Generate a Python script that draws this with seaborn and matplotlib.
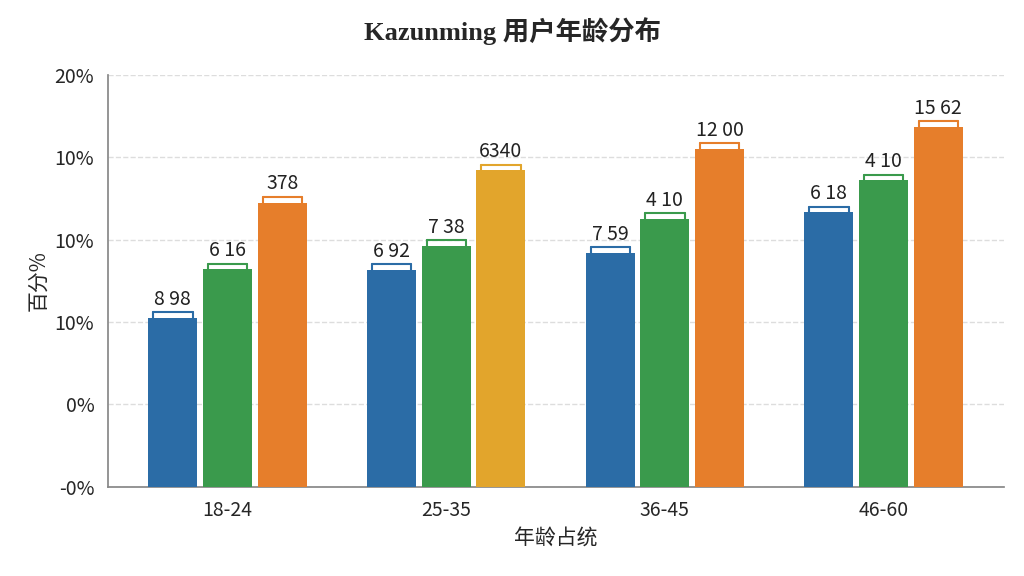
import matplotlib
matplotlib.use("Agg")
import matplotlib.pyplot as plt
import seaborn as sns
import pandas as pd

groups = ["18-24", "25-35", "36-45", "46-60"]
series = ["A", "B", "C"]
values = {
    "A": [2.05, 2.63, 2.84, 3.33],
    "B": [2.64, 2.92, 3.25, 3.72],
    "C": [3.45, 3.84, 4.10, 4.37],
}
labels = {
    "A": ["8 98", "6 92", "7 59", "6 18"],
    "B": ["6 16", "7 38", "4 10", "4 10"],
    "C": ["378", "6340", "12 00", "15 62"],
}
ytick_labels = ["-0%", "0%", "10%", "10%", "10%", "20%"]
colors = {"A": "#2b6ca6", "B": "#3a9a4c", "C": "#e67e2b"}
gold = "#e2a52c"

sns.set_theme(style="white")
plt.rcParams['font.family'] = ['Noto Sans CJK SC', 'DejaVu Sans']

rows = []
for s in series:
    for g, v in zip(groups, values[s]):
        rows.append({"group": g, "series": s, "value": v})
df = pd.DataFrame(rows)

fig, ax = plt.subplots(figsize=(10.24, 5.76), dpi=100)
fig.subplots_adjust(left=0.105, right=0.98, top=0.87, bottom=0.155)
sns.barplot(data=df, x="group", y="value", hue="series", palette=colors,
            saturation=1, width=0.75, gap=0.1, ax=ax, legend=False, zorder=3,
            edgecolor="none")

for cont, s in zip(ax.containers, series):
    for i, (bar, lab) in enumerate(zip(cont, labels[s])):
        if s == "C" and i == 1:
            bar.set_facecolor(gold)
        x = bar.get_x(); w = bar.get_width(); h = bar.get_height()
        c = bar.get_facecolor()
        ax.plot([x + w*0.1, x + w*0.9], [h + 0.07, h + 0.07], color=c, lw=1.5, zorder=4)
        for xx in (x + w*0.1, x + w*0.9):
            ax.plot([xx, xx], [h, h + 0.07], color=c, lw=1.5, zorder=4)
        ax.text(x + w/2, h + 0.1, lab, ha="center", va="bottom", fontsize=14, color="#222")

ax.set_ylim(0, 5)
ax.set_yticks(range(6))
ax.set_yticklabels(ytick_labels, fontsize=14)
ax.tick_params(axis="x", labelsize=14)
ax.yaxis.grid(True, linestyle="--", color="#dddddd", zorder=0)
ax.set_axisbelow(True)
for sp in ["top", "right"]:
    ax.spines[sp].set_visible(False)
ax.spines["left"].set_color("#888")
ax.spines["bottom"].set_color("#888")
ax.set_xlabel("年龄占统", fontsize=15)
ax.set_ylabel("百分%", fontsize=15)
fig.suptitle("Kazunming 用户年龄分布", fontsize=19, fontweight="bold", y=0.97,
             family=['Liberation Serif', 'Noto Sans CJK SC'])
fig.savefig("out.png")
